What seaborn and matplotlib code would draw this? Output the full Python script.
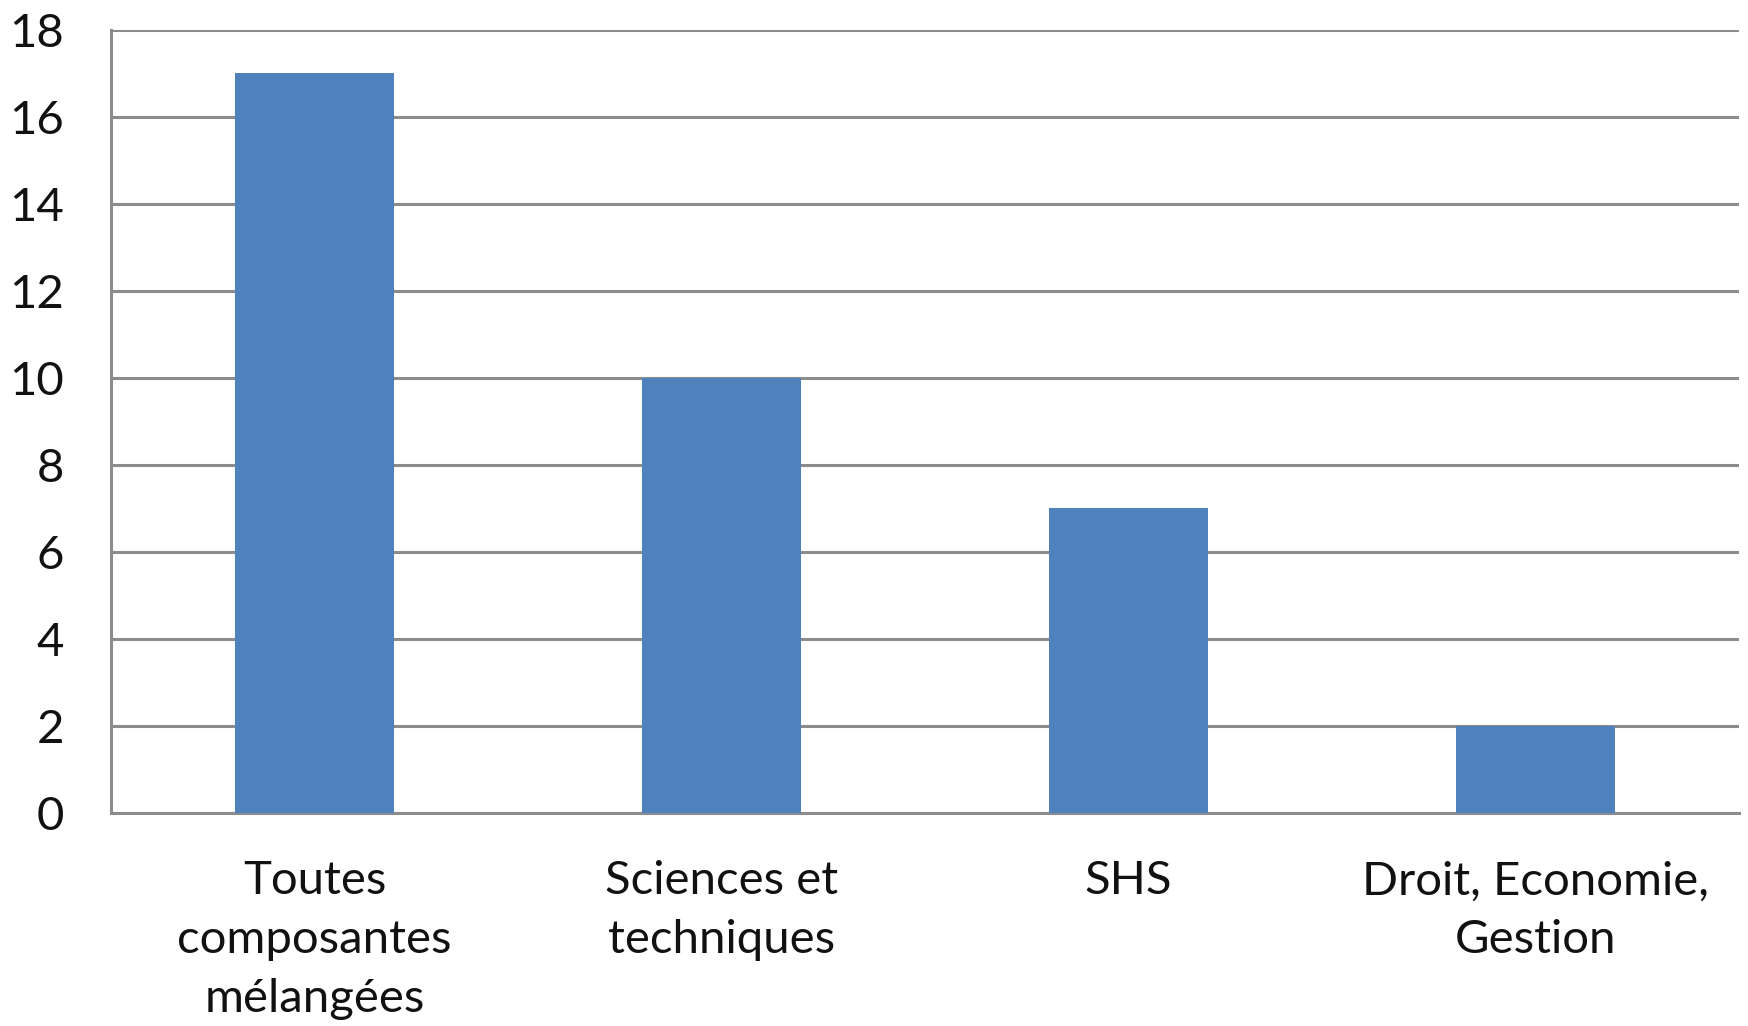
import numpy as np
import pandas as pd
import seaborn as sns
import matplotlib.pyplot as plt
from matplotlib.ticker import FixedLocator

categories = ["Toutes\ncomposantes\nmélangées", "Sciences et\ntechniques", "SHS", "Droit, Economie,\nGestion"]
counts = [17, 10, 7, 2]
yticks = [0, 2, 4, 6, 8, 10, 12, 14, 16, 18]

df = pd.DataFrame({"categorie": categories, "nombre": counts})

sns.set_style("white")
plt.rcParams['font.family'] = ['Lato', 'DejaVu Sans']

grid_color = '#8c8c8c'

fig = plt.figure(figsize=(17.48, 10.26), dpi=100)
ax = fig.add_axes([0.0635, 0.2076, 0.9314, 0.7632])

sns.barplot(data=df, x="categorie", y="nombre", color='#4f81bd', width=0.39,
            saturation=1, linewidth=0, ax=ax, zorder=3)

ax.set_xlim(-0.5, len(categories) - 0.5)
ax.set_ylim(0, 18)
ax.set_yticks(yticks)
ax.yaxis.grid(True, color=grid_color, linewidth=2.2, zorder=0)
ax.set_axisbelow(True)

ax.set_xlabel('')
ax.set_ylabel('')

for side in ['top', 'right']:
  ax.spines[side].set_visible(False)
for side in ['left', 'bottom']:
  ax.spines[side].set_color(grid_color)
  ax.spines[side].set_linewidth(2.2)

# tick marks between the categories, labels centred under bars
ax.xaxis.set_minor_locator(FixedLocator(np.arange(-0.5, len(categories), 1.0)))
ax.tick_params(axis='x', which='major', length=0, pad=34, labelsize=34, labelcolor='#111111')
ax.tick_params(axis='x', which='minor', length=14, width=2.2, color=grid_color, direction='out')
ax.tick_params(axis='y', length=14, width=2.2, color=grid_color, pad=20, labelsize=34, labelcolor='#111111')

for lab in ax.get_xticklabels():
  lab.set_linespacing(1.5)
  lab.set_verticalalignment('top')

plt.savefig("out.png", dpi=100)
plt.close()
